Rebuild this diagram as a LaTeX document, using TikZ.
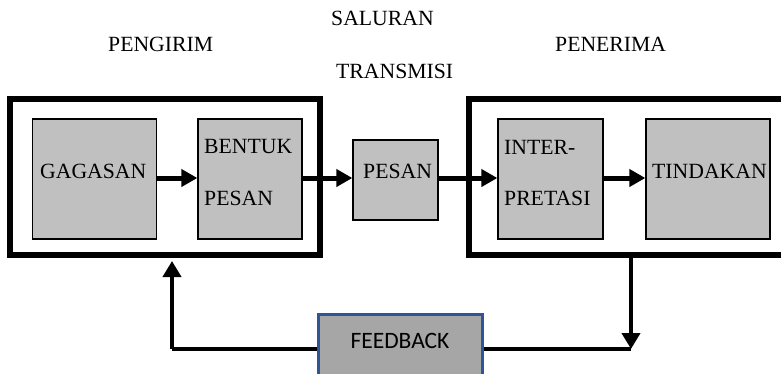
\documentclass[tikz,border=0pt]{standalone}
\usepackage{fontspec}
\setmainfont{Liberation Serif}
\newfontfamily\fbfont{Carlito}
\usetikzlibrary{arrows.meta}
\definecolor{boxgray}{HTML}{C0C0C0}
\definecolor{fbgray}{HTML}{A6A6A6}
\definecolor{fbblue}{HTML}{2F5597}
\tikzset{
  outerbox/.style={draw=black, line width=6pt, fill=none, inner sep=0pt},
  innerbox/.style={draw=black, line width=1.3pt, fill=boxgray, inner sep=0pt},
  lbl/.style={inner sep=0pt, font=\fontsize{21.7}{24}\selectfont, text=black},
  flow/.style={line width=5pt, -{Triangle[length=16pt, width=17pt]}},
  fbline/.style={line width=4pt},
  fbarrow/.style={line width=4pt, -{Triangle[length=16pt, width=18pt]}},
  fbbox/.style={draw=fbblue, line width=3pt, fill=fbgray, inner sep=0pt},
}
\begin{document}
\begin{tikzpicture}[x=1pt, y=-1pt]
\useasboundingbox (0,0) rectangle (781,373);
% titles
\node[lbl, anchor=base west] (tpeng) at (108,51) {PENGIRIM};
\node[lbl, anchor=base west] (tsal) at (331,25) {SALURAN};
\node[lbl, anchor=base west] (ttrans) at (336,78) {TRANSMISI};
\node[lbl, anchor=base west] (tpen) at (555,51) {PENERIMA};
% outer boxes
\node[outerbox, minimum width=310pt, minimum height=156pt] (send) at (165,177) {};
\draw[line width=6pt] (790,99) -- (469,99) -- (469,255) -- (790,255);
\coordinate (recvbot) at (631,255);
% inner boxes
\node[innerbox, minimum width=124pt, minimum height=120pt] (gag) at (94.5,179) {};
\node[innerbox, minimum width=104pt, minimum height=120pt] (ben) at (250,179) {};
\node[innerbox, minimum width=85pt, minimum height=80pt] (pes) at (395.5,180) {};
\node[innerbox, minimum width=105pt, minimum height=120pt] (int) at (550.5,179) {};
\node[innerbox, minimum width=124pt, minimum height=120pt] (tin) at (708,179) {};
% texts
\node[lbl, anchor=base west] (tgag) at (40,178) {GAGASAN};
\node[lbl, anchor=base west] (tben1) at (204,153) {BENTUK};
\node[lbl, anchor=base west] (tben2) at (204,205) {PESAN};
\node[lbl, anchor=base west] (tpes) at (363,178) {PESAN};
\node[lbl, anchor=base west] (tint1) at (504,154) {INTER-};
\node[lbl, anchor=base west] (tint2) at (504,205) {PRETASI};
\node[lbl, anchor=base west] (ttin) at (652,178) {TINDAKAN};
% flow arrows
\draw[flow] (gag.east |- 0,178) -- (ben.west |- 0,178);
\draw[flow] (ben.east |- 0,178) -- (pes.west |- 0,178);
\draw[flow] (pes.east |- 0,178) -- (int.west |- 0,178);
\draw[flow] (int.east |- 0,178) -- (tin.west |- 0,178);
% feedback
\node[fbbox, minimum width=164pt, minimum height=70pt] (fb) at (400,349) {};
\node[inner sep=0pt, font=\fbfont\fontsize{23.5}{26}\selectfont, anchor=base] (tfb) at (400,348) {FEEDBACK};
\coordinate (cr) at (631,349);
\coordinate (cl) at (172,349);
\coordinate (sendin) at (172,261);
\draw[fbarrow] (recvbot) -- (cr);
\draw[fbline] (cr) -- (fb.east);
\draw[fbline] (fb.west) -- (cl);
\draw[fbarrow] (cl) -- (sendin);
\end{tikzpicture}
\end{document}
